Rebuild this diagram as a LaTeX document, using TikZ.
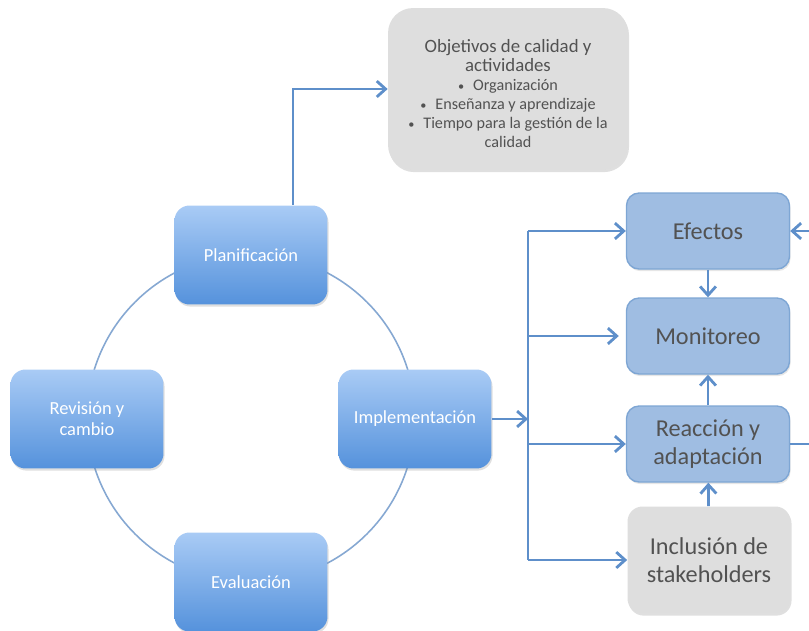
\documentclass[tikz,border=0pt]{standalone}
\usepackage{fontspec}
\setmainfont{Carlito}
\usetikzlibrary{calc, positioning, arrows.meta, shadows}
\definecolor{lineblue}{HTML}{5E8FCA}
\definecolor{ringblue}{HTML}{86A8D2}
\definecolor{toplight}{HTML}{A9CBF5}
\definecolor{botdark}{HTML}{5592DC}
\definecolor{stepfill}{HTML}{9FBDE2}
\definecolor{stepline}{HTML}{7EA6D4}
\definecolor{grayfill}{HTML}{DEDEDE}
\definecolor{txtgray}{HTML}{525252}
\newcommand{\bigtxt}{\fontsize{10.7}{10.6}\selectfont}
\newcommand{\smalltxt}{\fontsize{9.2}{10.6}\selectfont}
\newcommand{\bul}{{\fontsize{7}{8}\selectfont\textbullet}\hspace{0.55em}}

\begin{document}
\begin{tikzpicture}[x=0.02cm, y=-0.02cm,
  cyc/.style={rounded corners=0.3cm, top color=toplight, bottom color=botdark, draw=none, text=white, align=center, minimum width=3.06cm, minimum height=1.98cm, font=\fontsize{10.5}{12}\selectfont, drop shadow={opacity=0.25, shadow xshift=0.6pt, shadow yshift=-1.2pt}},
  stepbox/.style={rounded corners=0.25cm, fill=stepfill, draw=stepline, line width=0.8pt, text=txtgray, align=center, minimum width=3.26cm, minimum height=1.52cm, font=\fontsize{13.8}{16}\selectfont, drop shadow={opacity=0.2, shadow xshift=0.6pt, shadow yshift=-1.2pt}},
  graybox/.style={rounded corners=0.5cm, fill=grayfill, draw=none, text=txtgray, align=center, drop shadow={opacity=0.25, shadow xshift=0.6pt, shadow yshift=-1.2pt}},
  arr/.style={-{Straight Barb[length=5pt, width=9pt]}, line width=1.6pt, draw=lineblue}]
  \clip (0,0) rectangle (809,630);

  % ring of the cycle
  \coordinate (cen) at (251,418);
  \draw[ringblue, line width=0.9pt] (cen) circle[radius=3.28cm];

  \node[cyc] (plan) at (251,255) {Planificación};
  \node[cyc] (impl) at (415,419) {Implementación};
  \node[cyc] (eval) at (251,582) {Evaluación};
  \node[cyc] (rev) at (87,419) {Revisión y\\cambio};

  \node[graybox, minimum width=4.8cm, minimum height=3.24cm] (obj) at (508,89) {\bigtxt\rule{0pt}{12.6pt}Objetivos de calidad y\\[-1.1pt] \bigtxt actividades\\[-1.1pt] \smalltxt \bul Organización\\[-1.1pt] \smalltxt \bul Enseñanza y aprendizaje\\[-1.1pt] \smalltxt \bul Tiempo para la gestión de la\\[-1.1pt] \smalltxt calidad};

  \node[stepbox] (efec) at (708,231) {Efectos};
  \node[stepbox] (moni) at (708,336) {Monitoreo};
  \node[stepbox] (reac) at (708,444) {Reacción y\\adaptación};
  \node[graybox, rounded corners=0.3cm, minimum width=3.26cm, minimum height=2.14cm, font=\fontsize{13.8}{16}\selectfont] (incl) at (709,560) {Inclusión de\\stakeholders};

  % planning to objectives
  \draw[arr] ([xshift=0.84cm]plan.north) |- (obj.west);

  % implementation feeds the bus
  \coordinate (bus) at (528,419);
  \draw[arr] (impl.east) -- (impl.east -| bus);
  \draw[lineblue, line width=1.6pt] (bus |- efec) -- (bus |- incl);
  \draw[arr] (bus |- efec) -- (efec.west);
  \draw[arr, shorten >=4pt] (bus |- moni) -- (moni.west);
  \draw[arr] (bus |- reac) -- (reac.west);
  \draw[arr] (bus |- incl) -- (incl.west);

  \draw[arr] (efec) -- (moni);
  \draw[arr] (reac) -- (moni);
  \draw[arr] (incl) -- (reac);

  % loop back on the right
  \coordinate (back) at (840,0);
  \draw[arr] (reac.east) -- (reac.east -| back) -- (efec.east -| back) -- (efec.east);
\end{tikzpicture}
\end{document}
